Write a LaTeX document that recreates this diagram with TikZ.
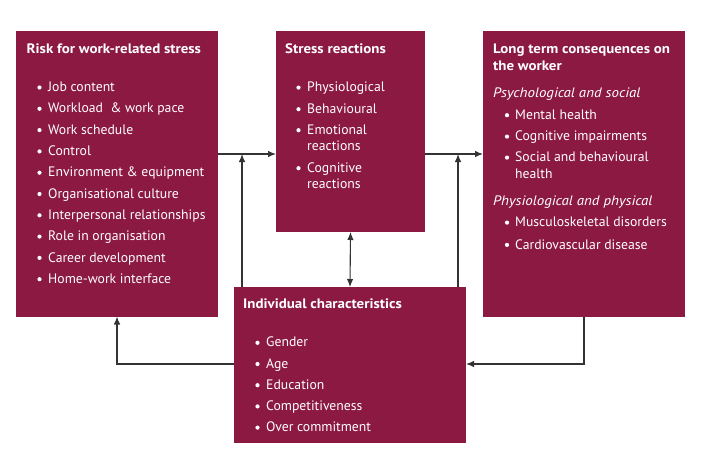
\documentclass[tikz,border=0pt]{standalone}
\usepackage{fontspec}
\setmainfont{PT Sans}
\newfontfamily\widefont[FakeStretch=1.09]{PT Sans}
\usetikzlibrary{arrows.meta}
\definecolor{boxred}{HTML}{8C1942}
\definecolor{linegray}{HTML}{333333}
\begin{document}
\begin{tikzpicture}[x=1pt,y=-1pt,
  box/.style={fill=boxred,draw=none,inner sep=0pt,outer sep=0pt},
  txt/.style={anchor=base west,text=white,inner sep=0pt,font=\fontsize{13.7}{16}\selectfont},
  ttl/.style={txt,font=\fontsize{13.7}{16}\selectfont\widefont\bfseries},
  sub/.style={txt,font=\fontsize{13.7}{16}\selectfont\widefont\itshape},
  bul/.style={circle,fill=white,inner sep=0pt,minimum size=4.2pt},
  arr/.style={draw=linegray,line width=1.1pt,-{Latex[length=8pt,width=6.5pt]}},
  dbl/.style={draw=linegray,line width=1.1pt,{Latex[length=8pt,width=6.5pt]}-{Latex[length=8pt,width=6.5pt]}}]
\useasboundingbox (0,0) rectangle (714,458);
% boxes
\node[box,minimum width=202pt,minimum height=285.5pt] (A) at (117,173.75) {};
\node[box,minimum width=149pt,minimum height=201pt] (B) at (350.5,131.5) {};
\node[box,minimum width=202pt,minimum height=285.5pt] (C) at (584,173.75) {};
\node[box,minimum width=232pt,minimum height=156pt] (D) at (350,365) {};
% box A text
\node[ttl] (At) at (26.5,53.3) {Risk for work-related stress};
\foreach \t [count=\i from 0] in {Job content,Workload \ \& work pace,Work schedule,Control,Environment \& equipment,Organisational culture,Interpersonal relationships,Role in organisation,Career development,Home-work interface}{
  \node[txt] (Ai\i) at (48,91.6+21.3*\i) {\t};
  \node[bul] (Ab\i) at (39.5,87.5+21.3*\i) {};
}
% box B text
\node[ttl] (Bt) at (285,53.3) {Stress reactions};
\node[txt] (B1) at (307,91.7) {Physiological};
\node[txt] (B2) at (307,113.3) {Behavioural};
\node[txt] (B3) at (307,134.3) {Emotional};
\node[txt] (B3b) at (307,150.9) {reactions};
\node[txt] (B4) at (307,172.3) {Cognitive};
\node[txt] (B4b) at (307,188.6) {reactions};
\node[bul] (Bb1) at (298.5,87.6) {};
\node[bul] (Bb2) at (298.5,109.2) {};
\node[bul] (Bb3) at (298.5,130.2) {};
\node[bul] (Bb4) at (298.5,168.2) {};
% box C text
\node[ttl] (Ct1) at (493,53.3) {Long term consequences on};
\node[ttl] (Ct2) at (493,70) {the worker};
\node[sub] (Cs1) at (493,97.3) {Psychological and social};
\node[txt] (C1) at (515,119.3) {Mental health};
\node[txt] (C2) at (515,140.7) {Cognitive impairments};
\node[txt] (C3) at (515,161.7) {Social and behavioural};
\node[txt] (C3b) at (515,178.3) {health};
\node[sub] (Cs2) at (493,205.7) {Physiological and physical};
\node[txt] (C4) at (515,226.7) {Musculoskeletal disorders};
\node[txt] (C5) at (515,249) {Cardiovascular disease};
\node[bul] (Cb1) at (507,115.2) {};
\node[bul] (Cb2) at (507,136.6) {};
\node[bul] (Cb3) at (507,157.6) {};
\node[bul] (Cb4) at (507,222.6) {};
\node[bul] (Cb5) at (507,244.9) {};
% box D text
\node[ttl] (Dt) at (243,308.3) {Individual characteristics};
\foreach \t [count=\i from 0] in {Gender,Age,Education,Competitiveness,Over commitment}{
  \node[txt] (Di\i) at (266,346.9+21.2*\i) {\t};
  \node[bul] (Db\i) at (257.5,342.8+21.2*\i) {};
}
% helper coordinates
\coordinate (h1) at (0,154);
\coordinate (h2) at (0,364);
\coordinate (v1) at (242,0);
\coordinate (v2) at (458,0);
% connectors
\draw[arr] (A.east |- h1) -- (B.west |- h1);
\draw[arr] (B.east |- h1) -- (C.west |- h1);
\draw[arr] (D.north -| v1) -- (v1 |- h1);
\draw[arr] (D.north -| v2) -- (v2 |- h1);
\draw[dbl] (B.south) -- (D.north);
\draw[arr] (D.west |- h2) -| (A.south);
\draw[arr] (C.south) |- (D.east |- h2);
\end{tikzpicture}
\end{document}
